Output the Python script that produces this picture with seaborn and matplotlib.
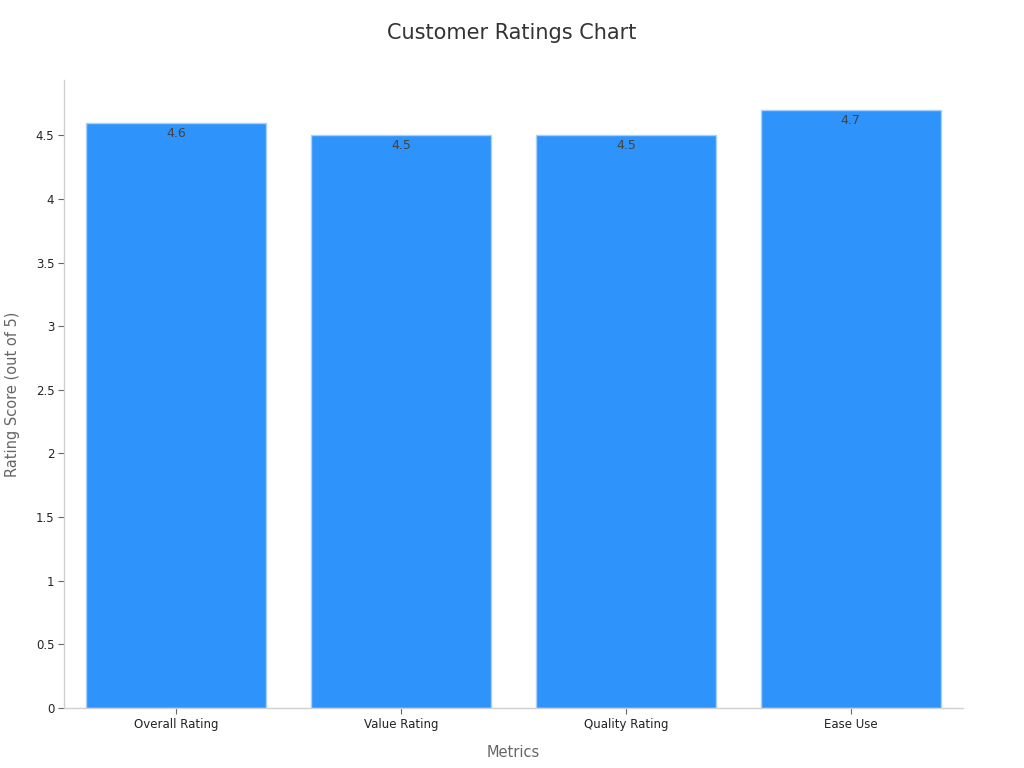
import matplotlib
matplotlib.use("Agg")
import matplotlib.pyplot as plt
import seaborn as sns
import pandas as pd

categories = ["Overall Rating", "Value Rating", "Quality Rating", "Ease Use"]
ratings = [4.6, 4.5, 4.5, 4.7]
yticks = [0, 0.5, 1, 1.5, 2, 2.5, 3, 3.5, 4, 4.5]
ytick_labels = ["0", "0.5", "1", "1.5", "2", "2.5", "3", "3.5", "4", "4.5"]

sns.set_theme(style="white")
plt.rcParams['font.family'] = ['DejaVu Sans']

df = pd.DataFrame({"Metric": categories, "Rating": ratings})

fig = plt.figure(figsize=(10.24, 7.68), dpi=100)
ax = fig.add_axes([0.0625, 0.078, 0.878, 0.818])
sns.barplot(data=df, x="Metric", y="Rating", color="#2E93FA", saturation=1,
            width=0.8, edgecolor="#A8D0F8", linewidth=1, ax=ax)

for p, v in zip(ax.patches, ratings):
    ax.annotate(f"{v}", (p.get_x() + p.get_width() / 2, p.get_height()),
                xytext=(0, -3), textcoords="offset points", ha="center", va="top",
                fontsize=9, color="#444444")

ax.set_xlim(-0.5, 3.5)
ax.set_ylim(0, 4.935)
ax.set_yticks(yticks)
ax.set_yticklabels(ytick_labels)
ax.tick_params(axis="both", labelsize=8.5, colors="#222222", length=4, width=0.8,
               left=True, bottom=True, color="#666666", pad=3)
for s in ["top", "right"]:
    ax.spines[s].set_visible(False)
for s in ["left", "bottom"]:
    ax.spines[s].set_color("#d0d0d0")
    ax.spines[s].set_linewidth(1)

ax.set_xlabel("Metrics", fontsize=10.5, color="#666666", labelpad=10)
ax.set_ylabel("Rating Score (out of 5)", fontsize=10.5, color="#666666", labelpad=11)
fig.suptitle("Customer Ratings Chart", fontsize=15, color="#333333", y=0.97)

fig.savefig("out.png", dpi=100)
